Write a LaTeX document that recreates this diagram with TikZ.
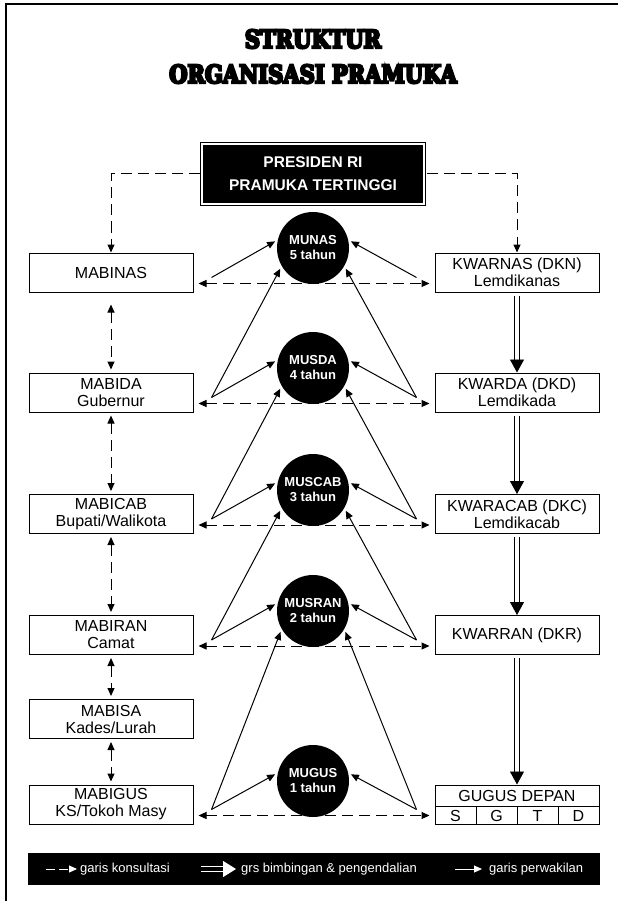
\documentclass[tikz,border=0pt]{standalone}
\usepackage{fontspec}
\setmainfont{Liberation Sans}
\newfontfamily\judulfont[FakeStretch=0.84,FakeBold=9]{DejaVu Serif Bold}
\usetikzlibrary{arrows.meta}

\begin{document}
\begin{tikzpicture}[
    x=1pt, y=-1pt,
    >={Triangle[length=8pt,width=7pt]},
    every node/.style={font=\fontsize{16}{17}\selectfont},
    kotak/.style={draw, line width=1pt, minimum width=164pt, minimum height=39pt, align=center, inner sep=0pt},
    bulat/.style={circle, fill=black, minimum size=72pt, inner sep=0pt, text=white, align=center,
      font=\fontsize{13}{15}\selectfont\bfseries},
    konsul/.style={line width=1pt, dash pattern=on 11pt off 6pt},
    wakil/.style={line width=1pt, ->, shorten >=3pt},
    bimbing/.style={line width=0.9pt, double distance=4pt, shorten <=3pt,
      -{Triangle[length=13pt,width=14pt]}}
  ]

% page size and the cut frame (top and left only)
\useasboundingbox (0,0) rectangle (618,901);
\draw[line width=1.5pt] (6,901) -- (6,4) -- (618,4);

% Title
\node[font=\judulfont\fontsize{25}{30}\selectfont] (judul1) at (313,39) {STRUKTUR};
\node[font=\judulfont\fontsize{25}{30}\selectfont] (judul2) at (313,74) {ORGANISASI PRAMUKA};

% Presiden box: black with a white gap and thin outline
\node[fill=black, draw, double=white, double distance=2.5pt, line width=1pt, outer sep=2.5pt,
  minimum width=222pt, minimum height=60pt, text=white, align=center,
  font=\fontsize{15.5}{23}\selectfont\bfseries] (pres) at (313,174) {PRESIDEN RI\\PRAMUKA TERTINGGI};

% Left column: majelis pembimbing
\node[kotak] (mabinas) at (111,272.5) {MABINAS};
\node[kotak] (mabida)  at (111,392.5) {MABIDA\\Gubernur};
\node[kotak] (mabicab) at (111,514)   {MABICAB\\Bupati/Walikota};
\node[kotak] (mabiran) at (111,635)   {MABIRAN\\Camat};
\node[kotak] (mabisa)  at (111,719)   {MABISA\\Kades/Lurah};
\node[kotak] (mabigus) at (111,804.5) {MABIGUS\\KS/Tokoh Masy};

% Right column: kwartir
\node[kotak] (kwarnas) at (517,272.5) {KWARNAS (DKN)\\Lemdikanas};
\node[kotak] (kwarda)  at (517,392.5) {KWARDA (DKD)\\Lemdikada};
\node[kotak] (kwarcab) at (517,514)   {KWARACAB (DKC)\\Lemdikacab};
\node[kotak] (kwarran) at (517,635)   {KWARRAN (DKR)};
\node[kotak] (gudep)   at (517,804.5) {};

% Gugus depan: title row and the four cells
\node (gudepT) at (517,795.5) {GUGUS DEPAN};
\draw[line width=1pt] (435,806) -- (599,806);
\foreach \i in {1,2,3}
  \draw[line width=1pt] (435+41*\i,806) -- (435+41*\i,824);
\foreach \huruf [count=\i] in {S,G,T,D}
  \node (sel\i) at (414.5+41*\i,815.5) {\huruf};

% Musyawarah circles
\node[bulat] (munas)  at (313,248) {MUNAS\\5 tahun};
\node[bulat] (musda)  at (313,368) {MUSDA\\4 tahun};
\node[bulat] (muscab) at (313,490) {MUSCAB\\3 tahun};
\node[bulat] (musran) at (313,611) {MUSRAN\\2 tahun};
\node[bulat] (mugus)  at (313,781) {MUGUS\\1 tahun};

% Konsultasi from presiden down to both columns
\draw[konsul, ->] (pres.west) -| (mabinas.north);
\draw[konsul, ->] (pres.east) -| (kwarnas.north);

% Konsultasi down the left column
\draw[konsul, <->, shorten <=12pt, shorten >=3pt] (mabinas.south) -- (mabida.north);
\draw[konsul, <->, shorten <=3pt, shorten >=3pt] (mabida.south) -- (mabicab.north);
\draw[konsul, <->, shorten <=3pt, shorten >=3pt] (mabicab.south) -- (mabiran.north);
\draw[konsul, <->, shorten <=3pt, shorten >=3pt] (mabiran.south) -- (mabisa.north);
\draw[konsul, <->, shorten <=3pt, shorten >=3pt] (mabisa.south) -- (mabigus.north);

% Bimbingan down the right column
\draw[bimbing] (kwarnas.south) -- (kwarda.north);
\draw[bimbing] (kwarda.south) -- (kwarcab.north);
\draw[bimbing] (kwarcab.south) -- (kwarran.north);
\draw[bimbing] (kwarran.south) -- (gudep.north);

% Each level: konsultasi across, perwakilan into its own musyawarah
\foreach \kiri/\kanan/\mus in {mabinas/kwarnas/munas, mabida/kwarda/musda,
    mabicab/kwarcab/muscab, mabiran/kwarran/musran, mabigus/gudep/mugus} {
  \draw[konsul, <->] ([xshift=5pt,yshift=-11pt]\kiri.east) -- ([xshift=-5pt,yshift=-11pt]\kanan.west);
  \coordinate (\kiri P) at ([shift={(18pt,-5pt)}]\kiri.east);
  \coordinate (\kanan P) at ([shift={(-18pt,-5pt)}]\kanan.west);
  \draw[wakil] (\kiri P) -- (\mus.167);
  \draw[wakil] (\kanan P) -- (\mus.13);
}

% ... and up into the musyawarah one level higher
\foreach \kiri/\kanan/\mus in {mabida/kwarda/munas, mabicab/kwarcab/musda,
    mabiran/kwarran/muscab, mabigus/gudep/musran} {
  \draw[wakil] (\kiri P) -- (\mus.210);
  \draw[wakil] (\kanan P) -- (\mus.330);
}

% Legend bar
\node[fill=black, minimum width=572pt, minimum height=32pt, inner sep=0pt] (legenda) at (314,869) {};
\begin{scope}[every node/.style={anchor=west, inner sep=0pt, text=white, font=\fontsize{13}{15}\selectfont}]
  \node (ket1) at (80,869) {garis konsultasi};
  \node (ket2) at (241,869) {grs bimbingan \& pengendalian};
  \node (ket3) at (489,869) {garis perwakilan};
\end{scope}
\draw[white, line width=1pt, dash pattern=on 9pt off 4pt, ->] ([xshift=-34pt]ket1.west) -- ([xshift=-3pt]ket1.west);
\draw[draw=white, double=black, double distance=3.5pt, line width=1pt,
  -{Triangle[length=13pt,width=16pt]}] ([xshift=-40pt]ket2.west) -- ([xshift=-5pt]ket2.west);
\draw[white, line width=1pt, ->] ([xshift=-34pt]ket3.west) -- ([xshift=-7pt]ket3.west);

\end{tikzpicture}
\end{document}
